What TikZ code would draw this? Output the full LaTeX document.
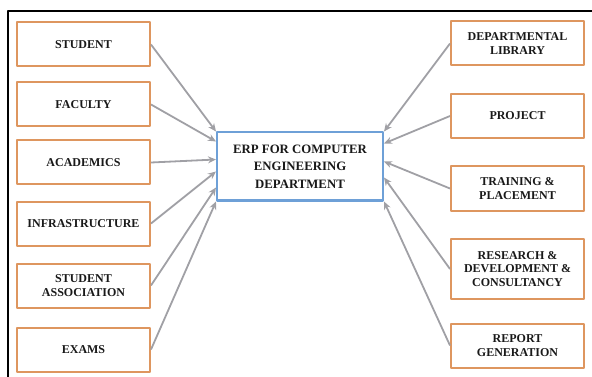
\documentclass[tikz,border=0pt]{standalone}
\usepackage{fontspec}
\setmainfont{Liberation Serif}
\usetikzlibrary{arrows.meta}
\definecolor{boxorange}{RGB}{222,150,95}
\definecolor{boxblue}{RGB}{110,160,215}
\definecolor{linegray}{RGB}{160,160,165}
\begin{document}
\begin{tikzpicture}[x=1pt, y=-1pt, line join=round,
		font=\bfseries\fontsize{12}{13.5}\selectfont,
		part/.style={draw=boxorange, line width=2pt, fill=white, text=black!90, align=center,
			minimum width=133pt, minimum height=44pt, inner sep=0pt},
		core/.style={draw=boxblue, line width=2pt, fill=white, text=black!90, align=center,
			minimum width=166pt, minimum height=68pt, inner sep=0pt,
			font=\bfseries\fontsize{12.8}{17.5}\selectfont},
		link/.style={draw=linegray, line width=1.8pt, -{Stealth[length=8pt, width=7pt]}}]
		\useasboundingbox (0,0) rectangle (592,377);
		\draw[line width=2.8pt] (8,377)--(8,11)--(592,11);
		\node[core] (erp) at (300,166.5) {ERP FOR COMPUTER\\ENGINEERING\\DEPARTMENT};
		% left side
		\node[part] (student) at (83.5,44.5) {STUDENT};
		\node[part] (faculty) at (83.5,104.5) {FACULTY};
		\node[part] (academics) at (83.5,162.5) {ACADEMICS};
		\node[part] (infra) at (83.5,223.5) {INFRASTRUCTURE};
		\node[part] (assoc) at (83.5,285.5) {STUDENT\\ASSOCIATION};
		\node[part] (exams) at (83.5,349.5) {EXAMS};
		% right side
		\node[part] (library) at (517.5,43.5) {DEPARTMENTAL\\LIBRARY};
		\node[part] (project) at (517.5,116) {PROJECT};
		\node[part] (training) at (517.5,188.5) {TRAINING \&\\PLACEMENT};
		\node[part, minimum height=60pt] (research) at (517.5,269) {RESEARCH \&\\DEVELOPMENT \&\\CONSULTANCY};
		\node[part] (report) at (517.5,345.5) {REPORT\\GENERATION};
		\draw[link] (student.east)--(erp.north west);
		\draw[link] (faculty.east)--([yshift=-10pt]erp.north west);
		\draw[link] (academics.east)--([yshift=-28pt]erp.north west);
		\draw[link] (infra.east)--([yshift=-40pt]erp.north west);
		\draw[link] (assoc.east)--([yshift=-56pt]erp.north west);
		\draw[link] (exams.east)--(erp.south west);
		\draw[link] (library.west)--(erp.north east);
		\draw[link] (project.west)--([yshift=-12pt]erp.north east);
		\draw[link] (training.west)--([yshift=-30pt]erp.north east);
		\draw[link] (research.west)--([yshift=-46pt]erp.north east);
		\draw[link] (report.west)--(erp.south east);
	\end{tikzpicture}
\end{document}
